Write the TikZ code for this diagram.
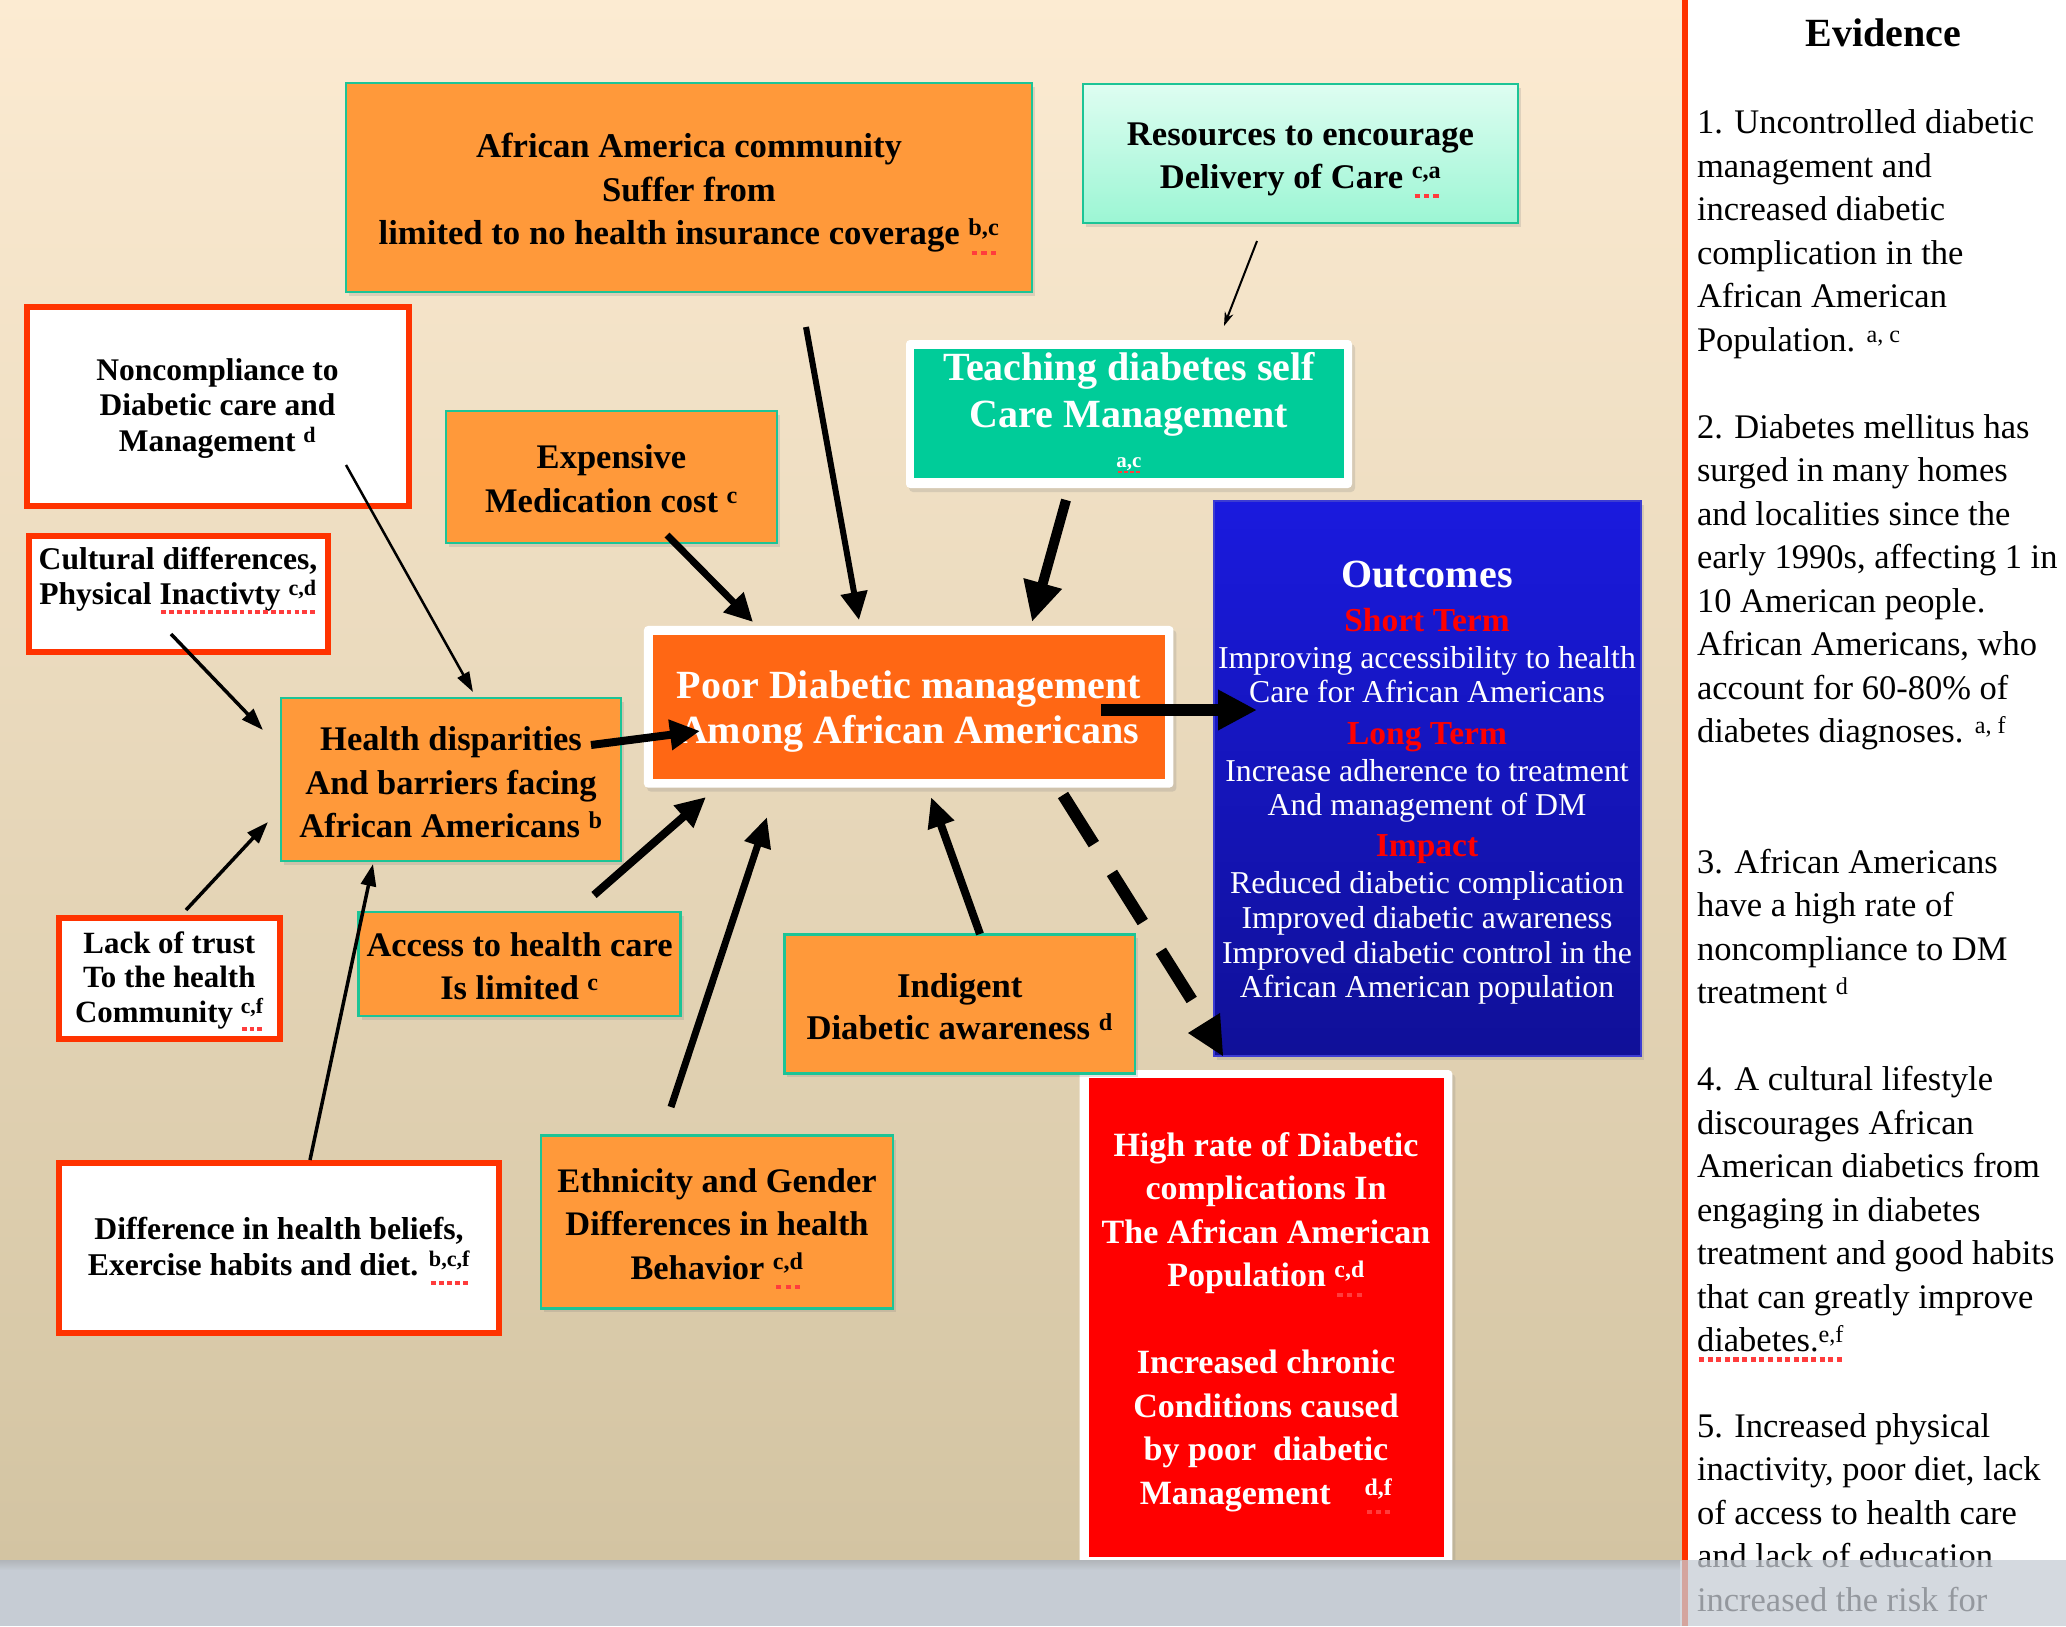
\documentclass[tikz,border=0pt]{standalone}
\usepackage{fontspec}
\setmainfont{Liberation Serif}
\usetikzlibrary{arrows.meta,shadows}
\definecolor{bgtop}{RGB}{252,235,210}
\definecolor{bgmid}{RGB}{241,233,213}
\definecolor{bgbot}{RGB}{211,196,162}
\definecolor{orangebox}{RGB}{255,153,58}
\definecolor{tealb}{RGB}{28,196,150}
\definecolor{redb}{RGB}{255,51,0}
\definecolor{poorO}{RGB}{255,103,20}
\definecolor{teachg}{RGB}{0,204,153}
\definecolor{minttop}{RGB}{222,253,241}
\definecolor{mintbot}{RGB}{156,246,212}
\definecolor{outtop}{RGB}{26,26,222}
\definecolor{outbot}{RGB}{16,16,152}
\definecolor{outedge}{RGB}{60,60,210}
\definecolor{hired}{RGB}{255,0,0}
\definecolor{bandc}{RGB}{198,204,212}
\definecolor{spellred}{RGB}{255,60,60}
\newcommand\fs[2]{\fontsize{#1}{#2}\selectfont}
\newsavebox\splbox
\newcommand\spl[1]{\sbox\splbox{#1}\leavevmode\rlap{\usebox\splbox}\rlap{\raisebox{-0.3em}{\color{spellred}\hbox to \wd\splbox{\xleaders\hbox to 0.24em{\hss\vrule width 0.15em height 0.13em\hss}\hfill}}}\hbox to \wd\splbox{\hss}}
\begin{document}
\begin{tikzpicture}[x=1pt,y=-1pt,
  shd/.style={drop shadow={shadow xshift=3pt,shadow yshift=-4pt,opacity=0.22}},
  obox/.style={draw=tealb,line width=2.5pt,fill=orangebox,inner sep=0pt,outer sep=0pt,shd},
  rbox/.style={draw=redb,line width=6pt,fill=white,inner sep=0pt,outer sep=0pt},
  wframe/.style={fill=white,rounded corners=4pt,inner sep=0pt,outer sep=0pt,shd},
  inbox/.style={inner sep=0pt,outer sep=0pt},
  txt/.style={inner sep=0pt,outer sep=0pt,anchor=base,align=center,font=\bfseries},
  otxt/.style={inner sep=0pt,outer sep=0pt,anchor=base,text=white,font=\fs{31.8}{34}},
  ohead/.style={inner sep=0pt,outer sep=0pt,anchor=base,text=hired,font=\bfseries\fs{33.5}{36}},
  evtxt/.style={inner sep=0pt,outer sep=0pt,anchor=base west,align=left,font=\fs{34.5}{43.5}},
  conn/.style={draw=black,line width=#1}
]
\useasboundingbox (0,0) rectangle (2066,1626);
% background
\shade[top color=bgtop,middle color=bgmid,bottom color=bgbot] (0,0) rectangle (1684,1560);
\fill[white] (1686,0) rectangle (2066,1560);
\fill[redb] (1682,0) rectangle (1688,1626);

% ---------- boxes ----------
\node[obox,minimum width=686pt,minimum height=209pt] (top) at (689,187.5) {};
\node[draw=tealb,line width=2.5pt,top color=minttop,bottom color=mintbot,inner sep=0pt,outer sep=0pt,shd,minimum width=435pt,minimum height=139pt] (res) at (1300.5,153.5) {};
\node[wframe,minimum width=446pt,minimum height=148pt] (teachF) at (1129,414) {};
\node[inbox,fill=teachg,minimum width=430pt,minimum height=129pt] (teach) at (1129,413.5) {};
\node[rbox,minimum width=382pt,minimum height=199pt] (nonc) at (217.5,406) {};
\node[obox,minimum width=331pt,minimum height=132pt] (exp) at (611.5,477) {};
\node[rbox,minimum width=299pt,minimum height=116pt] (cult) at (178,594) {};
\node[obox,minimum width=340pt,minimum height=163pt] (health) at (451,779.3) {};
\node[wframe,minimum width=529.5pt,minimum height=161.7pt] (poorF) at (908.7,706.8) {};
\node[inbox,fill=poorO,minimum width=512pt,minimum height=144pt] (poor) at (909,707) {};
\node[draw=outedge,line width=2pt,top color=outtop,bottom color=outbot,inner sep=0pt,outer sep=0pt,shd,minimum width=427pt,minimum height=555pt] (out) at (1427,778) {};
\node[wframe,minimum width=372.7pt,minimum height=495pt] (highF) at (1266,1317.5) {};
\node[inbox,fill=hired,minimum width=355pt,minimum height=479pt] (high) at (1266.5,1317.5) {};
\node[obox,minimum width=322pt,minimum height=104pt] (access) at (519.5,963.8) {};
\node[obox,minimum width=350.6pt,minimum height=139pt] (indig) at (959.7,1003.8) {};
\node[rbox,minimum width=220.5pt,minimum height=121pt] (lack) at (169.3,978.2) {};
\node[rbox,minimum width=440pt,minimum height=170pt] (diff) at (279,1248) {};
\node[obox,minimum width=352pt,minimum height=172.6pt] (eth) at (717,1222) {};

% ---------- box texts (anchor = baseline of last line) ----------
\node[txt,font=\bfseries\fs{34.7}{43.5}] (topT) at (689,244.8) {African America community\\Suffer from\\limited to no health insurance coverage \spl{\textsuperscript{b,c}}};
\node[txt,font=\bfseries\fs{34.6}{42.2}] (resT) at (1300.5,188) {Resources to encourage\\Delivery of Care \spl{\textsuperscript{c,a}}};
\node[txt,text=white,font=\bfseries\fs{40}{46.2}] (teachT) at (1129,427) {Teaching diabetes self\\Care Management};
\node[txt,text=white,font=\bfseries\fs{21}{24}] (teachS) at (1129,467) {\spl{a,c}};
\node[txt,font=\bfseries\fs{31.5}{35.3}] (noncT) at (217.5,451.2) {Noncompliance to\\Diabetic care and\\Management \textsuperscript{d}};
\node[txt,font=\bfseries\fs{34.5}{43.5}] (expT) at (611.5,512.1) {Expensive\\Medication cost \textsuperscript{c}};
\node[txt,font=\bfseries\fs{31.6}{35.5}] (cultT) at (178,604.6) {Cultural differences,\\Physical \spl{Inactivty \textsuperscript{c,d}}};
\node[txt,font=\bfseries\fs{34.5}{43.5}] (healthT) at (451,837.6) {Health disparities\\And barriers facing\\African Americans \textsuperscript{b}};
\node[txt,text=white,font=\bfseries\fs{40}{44.8}] (poorT) at (909,743.2) {Poor Diabetic management\\Among African Americans};
\node[txt,font=\bfseries\fs{34.4}{43.5}] (accessT) at (519.5,999.6) {Access to health care\\Is limited \textsuperscript{c}};
\node[txt,font=\bfseries\fs{34.7}{42.1}] (indigT) at (959.7,1039.2) {Indigent\\Diabetic awareness \textsuperscript{d}};
\node[txt,font=\bfseries\fs{30.9}{34.3}] (lackT) at (169.3,1022.2) {Lack of trust\\To the health\\Community \spl{\textsuperscript{c,f}}};
\node[txt,font=\bfseries\fs{31.7}{35.6}] (diffT) at (279,1275.4) {Difference in health beliefs,\\Exercise habits and diet. \spl{\textsuperscript{b,c,f}}};
\node[txt,font=\bfseries\fs{34.4}{43.5}] (ethT) at (717,1279) {Ethnicity and Gender\\Differences in health\\Behavior \spl{\textsuperscript{c,d}}};
\node[txt,text=white,font=\bfseries\fs{34}{43.5}] (highT) at (1266,1504.2) {High rate of Diabetic\\complications In\\The African American\\Population \spl{\textsuperscript{c,d}}\\[43.5pt]Increased chronic\\Conditions caused\\by poor\ \ diabetic\\Management\quad\spl{\textsuperscript{d,f}}};

% outcomes
\node[inner sep=0pt,anchor=base,text=white,font=\bfseries\fs{40}{44}] (o1) at (1427,587.7) {Outcomes};
\node[ohead] (o2) at (1427,631.6) {Short Term};
\node[otxt] (o3) at (1427,668) {Improving accessibility to health};
\node[otxt] (o4) at (1427,702.2) {Care for African Americans};
\node[ohead] (o5) at (1427,744.9) {Long Term};
\node[otxt] (o6) at (1427,781.3) {Increase adherence to treatment};
\node[otxt] (o7) at (1427,815.5) {And management of DM};
\node[ohead] (o8) at (1427,856.9) {Impact};
\node[otxt] (o9) at (1427,893.3) {Reduced diabetic complication};
\node[otxt] (o10) at (1427,928.9) {Improved diabetic awareness};
\node[otxt] (o11) at (1427,963.1) {Improved diabetic control in the};
\node[otxt] (o12) at (1427,997.4) {African American population};

% evidence
\node[inner sep=0pt,anchor=base,font=\bfseries\fs{40}{44}] (evH) at (1883.5,46) {Evidence};
\node[evtxt] (ev1) at (1697,351.4) {1. Uncontrolled diabetic\\management and\\increased diabetic\\complication in the\\African American\\Population. \textsuperscript{a, c}};
\node[evtxt] (ev2) at (1697,742.8) {2. Diabetes mellitus has\\surged in many homes\\and localities since the\\early 1990s, affecting 1 in\\10 American people.\\African Americans, who\\account for 60-80\% of\\diabetes diagnoses. \textsuperscript{a, f}};
\node[evtxt] (ev3) at (1697,1003.6) {3. African Americans\\have a high rate of\\noncompliance to DM\\treatment \textsuperscript{d}};
\node[evtxt] (ev4) at (1697,1351.5) {4. A cultural lifestyle\\discourages African\\American diabetics from\\engaging in diabetes\\treatment and good habits\\that can greatly improve\\\spl{diabetes.\textsuperscript{e,f}}};
\node[evtxt] (ev5) at (1697,1611) {5. Increased physical\\inactivity, poor diet, lack\\of access to health care\\and lack of education\\increased the risk for};

% ---------- connectors ----------
\coordinate (aS) at (1257,241);  \coordinate (aE) at (1224,326);
\coordinate (bS) at (806,327);   \coordinate (bE) at (859,620);
\coordinate (cS) at (1066,500);  \coordinate (cE) at (1032,622);
\coordinate (dS) at (667,535);   \coordinate (dE) at (753,622);
\coordinate (eS) at (346,465);   \coordinate (eE) at (473,692);
\coordinate (fS) at (171,634);   \coordinate (fE) at (263,730);
\coordinate (gS) at (186,910);   \coordinate (gE) at (268,822);
\coordinate (hS) at (310,1160);  \coordinate (hE) at (373,864);
\coordinate (iS) at (591,745);   \coordinate (iE) at (700,731);
\coordinate (jS) at (1101,710);  \coordinate (jE) at (1257,710);
\coordinate (kS) at (594,895);   \coordinate (kE) at (706,797);
\coordinate (lS) at (671,1107);  \coordinate (lE) at (767,817);
\coordinate (mS) at (980,934);   \coordinate (mE) at (931,797);
\coordinate (nS) at (1063,795);  \coordinate (nE) at (1193,1002);
\coordinate (nT) at (1188,1033);

\draw[conn=2pt,-{Stealth[length=14pt,width=9pt]}] (aS) -- (aE);
\draw[conn=6pt,-{Triangle[length=28pt,width=26pt]}] (bS) -- (bE);
\draw[conn=10pt,-{Triangle[length=40pt,width=37pt]}] (cS) -- (cE);
\draw[conn=7pt,-{Triangle[length=28pt,width=27pt]}] (dS) -- (dE);
\draw[conn=2.5pt,-{Triangle[length=20pt,width=13pt]}] (eS) -- (eE);
\draw[conn=3.5pt,-{Triangle[length=22pt,width=15pt]}] (fS) -- (fE);
\draw[conn=3.5pt,-{Triangle[length=22pt,width=15pt]}] (gS) -- (gE);
\draw[conn=3.5pt,-{Triangle[length=22pt,width=15pt]}] (hS) -- (hE);
\draw[conn=8pt,-{Triangle[length=30pt,width=29pt]}] (iS) -- (iE);
\draw[conn=12pt,-{Triangle[length=39pt,width=38pt]}] (jS) -- (jE);
\draw[conn=8pt,-{Triangle[length=30pt,width=28pt]}] (kS) -- (kE);
\draw[conn=7pt,-{Triangle[length=30pt,width=26pt]}] (lS) -- (lE);
\draw[conn=8pt,-{Triangle[length=30pt,width=26pt]}] (mS) -- (mE);
\draw[conn=12pt,dash pattern=on 58pt off 34pt] (nS) -- (nE);
\fill[black] (nT) -- (1220,1013) -- (1223,1056) -- cycle;

% bottom band
\fill[bandc] (0,1560) rectangle (1680,1626);
\fill[bandc,opacity=0.75] (1680,1560) rectangle (2066,1626);
\shade[top color=black!40,bottom color=bandc,opacity=0.45] (0,1560) rectangle (1680,1570);
\end{tikzpicture}
\end{document}
